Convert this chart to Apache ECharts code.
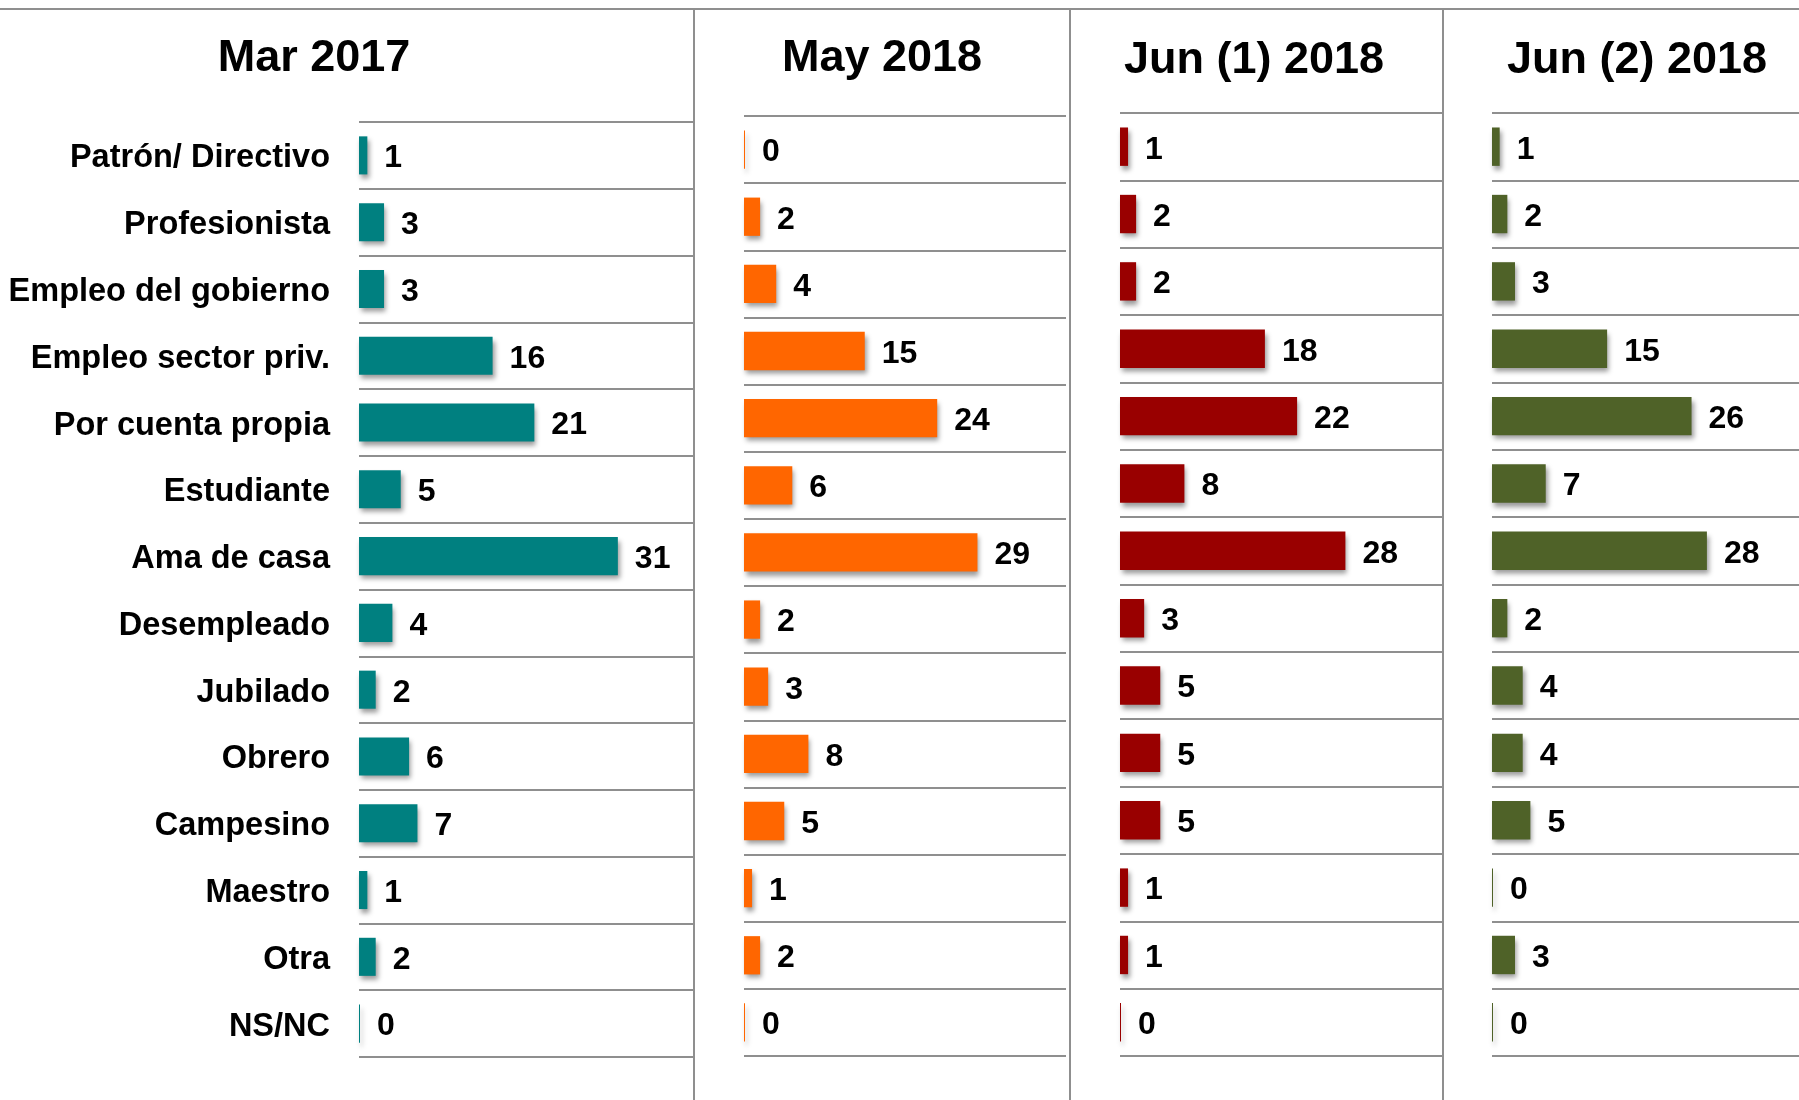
<!DOCTYPE html>
<html>
<head>
<meta charset="utf-8">
<script src="https://cdn.jsdelivr.net/npm/echarts@6/dist/echarts.min.js"></script>
<style>html,body{margin:0;padding:0;background:#fff}#c{width:1799px;height:1100px}</style>
</head>
<body>
<div id="c"></div>
<script>
const categories = ['Patrón/ Directivo','Profesionista','Empleo del gobierno','Empleo sector priv.','Por cuenta propia','Estudiante','Ama de casa','Desempleado','Jubilado','Obrero','Campesino','Maestro','Otra','NS/NC'];
const panelTitles = ['Mar 2017','May 2018','Jun (1) 2018','Jun (2) 2018'];
const mar2017 = [1,3,3,16,21,5,31,4,2,6,7,1,2,0];
const may2018 = [0,2,4,15,24,6,29,2,3,8,5,1,2,0];
const jun1_2018 = [1,2,2,18,22,8,28,3,5,5,5,1,1,0];
const jun2_2018 = [1,2,3,15,26,7,28,2,4,4,5,0,3,0];
const seriesValues = [mar2017, may2018, jun1_2018, jun2_2018];
const colors = ['#008080','#FF6600','#990000','#4F6228'];

const grids = [
  {left:359, width:334, top:122, height:935},
  {left:744, width:322, top:116, height:940},
  {left:1120, width:322, top:113, height:943},
  {left:1492, width:330, top:113, height:943}
];
const titleCenters = [[314,59],[882,59],[1254,61],[1637,61]];
const FONT = '"Liberation Sans", Arial, sans-serif';
const lineColor = '#8f8f8f';

const chart = echarts.init(document.getElementById('c'), null, {renderer:'canvas'});
const option = {
  backgroundColor:'#fff',
  animation:false,
  grid: grids.map(g => Object.assign({containLabel:false}, g)),
  xAxis: grids.map((g,i) => ({
    gridIndex:i, type:'value', min:0, max:40,
    axisLine:{show:false}, axisTick:{show:false}, axisLabel:{show:false}, splitLine:{show:false}
  })),
  yAxis: grids.map((g,i) => ({
    gridIndex:i, type:'category', data:categories, inverse:true,
    axisLine:{show:false}, axisTick:{show:false},
    axisLabel:{show:i===0, margin:29, fontSize:32.5, fontWeight:'bold', color:'#000', fontFamily:FONT,
      verticalAlign:'top', lineHeight:6},
    splitLine:{show:true, lineStyle:{color:lineColor, width:2}}
  })),
  series: seriesValues.map((vals,i) => ({
    type:'bar', xAxisIndex:i, yAxisIndex:i, data:vals, barWidth:'57%', barMinHeight:1,
    itemStyle:{color:colors[i], shadowColor:'rgba(0,0,0,0.4)', shadowBlur:5, shadowOffsetX:2, shadowOffsetY:4},
    label:{show:true, position:'right', distance:17, offset:[0,3], fontSize:32, fontWeight:'bold', color:'#000', fontFamily:FONT}
  })),
  graphic: [
    {type:'line', shape:{x1:0,y1:9,x2:1799,y2:9}, style:{stroke:lineColor, lineWidth:2}},
    {type:'line', shape:{x1:694,y1:9,x2:694,y2:1100}, style:{stroke:lineColor, lineWidth:2}},
    {type:'line', shape:{x1:1070,y1:9,x2:1070,y2:1100}, style:{stroke:lineColor, lineWidth:2}},
    {type:'line', shape:{x1:1443,y1:9,x2:1443,y2:1100}, style:{stroke:lineColor, lineWidth:2}}
  ].concat(panelTitles.map((t,i) => ({
    type:'text', x:titleCenters[i][0], y:titleCenters[i][1],
    style:{text:t, fill:'#000', font:'bold 45px ' + FONT, textAlign:'center', textVerticalAlign:'middle'}
  })))
};
chart.setOption(option);
</script>
</body>
</html>
